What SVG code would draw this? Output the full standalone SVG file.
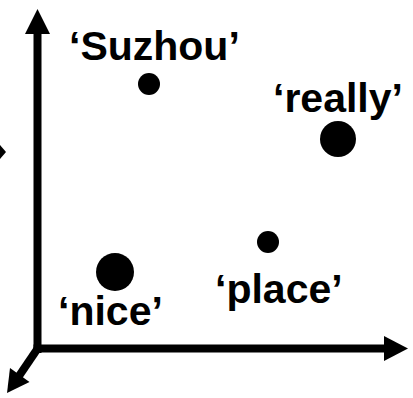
<svg xmlns="http://www.w3.org/2000/svg" width="413" height="398" viewBox="0 0 413 398">
<style>
.lbl{font-family:"Liberation Sans",Arial,sans-serif;font-weight:bold;font-size:41px;fill:#000}
.ax{stroke:#000;stroke-width:8;fill:none}
.dot{fill:#000}
</style>
<rect width="413" height="398" fill="#fff"/>
<g id="connectors">
<line class="ax" x1="37.5" y1="353" x2="37.5" y2="32"/>
<polygon points="37.5,9 25,34 50,34" fill="#000"/>
<line class="ax" x1="33.5" y1="348.5" x2="386" y2="348.5"/>
<polygon points="408,348.5 384,336 384,361" fill="#000"/>
<line class="ax" x1="38" y1="348" x2="19" y2="376"/>
<polygon points="7,393 10,368 29.5,382" fill="#000"/>
<polygon points="0,145 6,152 0,159" fill="#000"/>
</g>
<g id="suzhou">
<circle class="dot" cx="149" cy="84" r="11"/>
<text class="lbl" x="69" y="60">‘Suzhou’</text>
</g>
<g id="really">
<circle class="dot" cx="338" cy="139" r="18"/>
<text class="lbl" x="273" y="112">‘really’</text>
</g>
<g id="nice">
<circle class="dot" cx="115" cy="272" r="19"/>
<text class="lbl" x="58" y="325">‘nice’</text>
</g>
<g id="place">
<circle class="dot" cx="268" cy="242" r="11"/>
<text class="lbl" x="215" y="303">‘place’</text>
</g>
</svg>
